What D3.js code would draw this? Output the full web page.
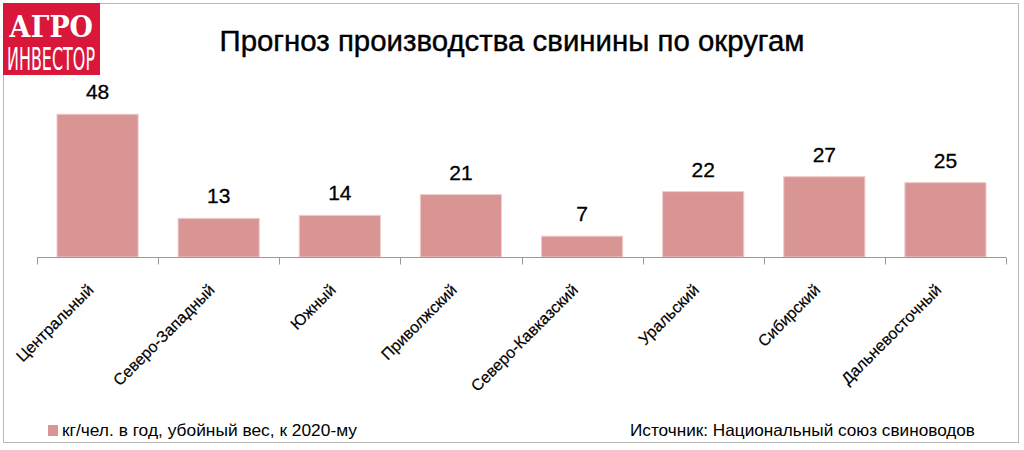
<!DOCTYPE html>
<html><head><meta charset="utf-8">
<script src="https://cdn.jsdelivr.net/npm/d3@7"></script>
<style>body{margin:0;background:#fff}svg{display:block;font-family:"Liberation Sans",Arial,sans-serif}</style>
</head><body><svg id="c" width="1024" height="450"></svg>
<script>
const categories = ["Центральный","Северо-Западный","Южный","Приволжский","Северо-Кавказский","Уральский","Сибирский","Дальневосточный"];
const values = [48,13,14,21,7,22,27,25];
const title = "Прогноз производства свинины по округам";
const legendLabel = "кг/чел. в год, убойный вес, к 2020-му";
const sourceLabel = "Источник: Национальный союз свиноводов";

const svg = d3.select("#c");
// frame
svg.append("rect").attr("x",3.5).attr("y",3.5).attr("width",1015).attr("height",439)
  .attr("fill","#fff").attr("stroke","#b8b8b8").attr("stroke-width",1);

// logo
const logo = svg.append("g");
logo.append("rect").attr("x",3).attr("y",3).attr("width",97).attr("height",72).attr("fill","#d8173a");
logo.append("text").attr("x",51).attr("y",37).attr("text-anchor","middle")
  .attr("font-family","'DejaVu Serif',serif").attr("font-weight","bold").attr("font-size",30)
  .attr("fill","#fff").attr("textLength",84).attr("lengthAdjust","spacingAndGlyphs").text("АГРО");
logo.append("text").attr("transform","translate(51,70) scale(1,1.45)").attr("text-anchor","middle")
  .attr("font-family","'DejaVu Sans Condensed','DejaVu Sans',sans-serif").attr("font-size",22)
  .attr("fill","#fff").attr("textLength",88).attr("lengthAdjust","spacingAndGlyphs").text("ИНВЕСТОР");

// title
svg.append("text").attr("x",512).attr("y",51).attr("text-anchor","middle")
  .attr("font-size",29).attr("fill","#000").attr("stroke","#000").attr("stroke-width",0.4)
  .attr("textLength",585).attr("lengthAdjust","spacingAndGlyphs").text(title);

const baseY = 257;
const x = d3.scaleBand().domain(categories).range([37,1006]).paddingInner(0).paddingOuter(0);
const y = d3.scaleLinear().domain([0,50]).range([baseY, 108.3]);
const bw = x.bandwidth()*0.67;

const g = svg.append("g");
g.selectAll("rect.bar").data(values).join("rect").attr("class","bar")
  .attr("x",(d,i)=>x(categories[i]) + (x.bandwidth()-bw)/2)
  .attr("y",d=>y(d)).attr("width",bw).attr("height",d=>baseY-y(d))
  .attr("fill","#d99594").attr("stroke","#eecccb").attr("stroke-width",1);

g.selectAll("text.val").data(values).join("text").attr("class","val")
  .attr("x",(d,i)=>x(categories[i])+x.bandwidth()/2).attr("y",d=>y(d)-15)
  .attr("text-anchor","middle").attr("font-size",21).attr("fill","#000")
  .attr("stroke","#000").attr("stroke-width",0.3).text(d=>d);

// axis
const axis = d3.axisBottom(x).tickSize(0).tickFormat("");
const ag = svg.append("g").attr("transform",`translate(0,${baseY+0.5})`).call(axis);
ag.select(".domain").attr("stroke","#9a9a9a").attr("d",`M37,0H1006`);
const bounds = categories.map(c=>x(c)).concat([x.range()[1]]);
ag.selectAll("line.tk").data(bounds).join("line").attr("class","tk")
  .attr("x1",d=>Math.round(d)+0.5).attr("x2",d=>Math.round(d)+0.5).attr("y1",0).attr("y2",7)
  .attr("stroke","#9a9a9a");

svg.selectAll("text.cat").data(categories).join("text").attr("class","cat")
  .attr("transform",d=>`translate(${x(d)+x.bandwidth()/2-3},291) rotate(-45)`)
  .attr("text-anchor","end").attr("font-size",16).attr("fill","#000")
  .attr("stroke","#000").attr("stroke-width",0.2).text(d=>d);

// legend
svg.append("rect").attr("x",48).attr("y",425).attr("width",10).attr("height",11).attr("fill","#d99594");
svg.append("text").attr("x",62).attr("y",436).attr("font-size",16.5).attr("fill","#000")
  .attr("textLength",295).attr("lengthAdjust","spacingAndGlyphs").text(legendLabel);
svg.append("text").attr("x",630).attr("y",436).attr("font-size",16.5).attr("fill","#000")
  .attr("textLength",345).attr("lengthAdjust","spacingAndGlyphs").text(sourceLabel);
</script></body></html>
